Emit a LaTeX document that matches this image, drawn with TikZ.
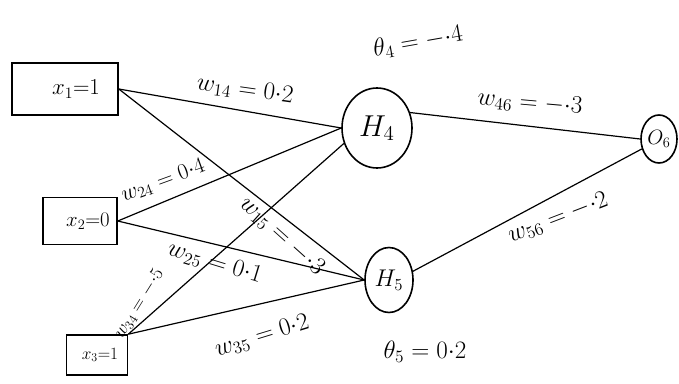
\documentclass[tikz,border=0pt]{standalone}
\usepackage{graphicx}
\usetikzlibrary{shapes.geometric}
\newcommand{\bigtxt}[2]{\scalebox{#1}{#2}}
\begin{document}
\begin{tikzpicture}[x=1pt,y=-1pt,
  inbox/.style={draw, line width=1.6pt, inner sep=0pt, font=\huge},
  neuron/.style={ellipse, draw, line width=1.6pt, inner sep=0pt, font=\LARGE},
  wlab/.style={font=\LARGE, inner sep=0pt, scale=1.45},
  link/.style={line width=1.2pt}]
\useasboundingbox[fill=white] (0,0) rectangle (679,383);
% inputs
\node[inbox, minimum width=106pt, minimum height=52pt] (x1) at (65,89) {\hspace*{22pt}\bigtxt{1.1}{$x_1{=}1$}};
\node[inbox, minimum width=74pt, minimum height=47pt] (x2) at (80,221) {\hspace*{16pt}$x_2{=}0$};
\node[inbox, minimum width=61pt, minimum height=40pt, font=\LARGE] (x3) at (97,355) {\hspace*{6pt}$x_3{=}1$};
% neurons
\node[neuron, minimum width=70pt, minimum height=80pt] (h4) at (377,128) {\bigtxt{1.75}{$H_4$}};
\node[neuron, minimum width=48pt, minimum height=65pt] (h5) at (389,280) {\bigtxt{1.4}{$H_5$}};
\node[neuron, minimum width=36pt, minimum height=48pt] (o6) at (659,139) {\bigtxt{1.2}{$O_6$}};
% connectors
\draw[link] (x1.east) -- (h4.west);
\draw[link] (x1.east) -- (h5.west);
\draw[link] (x2.east) -- (h4.west);
\draw[link] (x2.east) -- (h5.west);
\draw[link] (x3.north east) -- (h4.205);
\draw[link] (x3.north east) -- (h5.west);
\draw[link] (h4.25) -- (o6.west);
\draw[link] (h5.20) -- (o6.210);
% weight labels
\node[wlab, rotate=-8] (l14) at (245,90) {$w_{14}=0{\cdot}2$};
\node[wlab, rotate=20, scale=0.9] (l24) at (163,181) {$w_{24}=0{\cdot}4$};
\node[wlab, rotate=-42, scale=1.0] (l15) at (282,236) {$w_{15}=-{\cdot}3$};
\node[wlab, rotate=-17] (l25) at (215,263) {$w_{25}=0{\cdot}1$};
\node[wlab, rotate=58, scale=0.75] (l34) at (139,304) {$w_{34}=-{\cdot}5$};
\node[wlab, rotate=17] (l35) at (262,336) {$w_{35}=0{\cdot}2$};
\node[wlab, rotate=-5] (l46) at (530,103) {$w_{46}=-{\cdot}3$};
\node[wlab, rotate=21] (l56) at (558,218) {$w_{56}=-{\cdot}2$};
% thresholds
\node[wlab, rotate=10] (t4) at (418,42) {$\theta_4=-{\cdot}4$};
\node[wlab] (t5) at (425,352) {$\theta_5=0{\cdot}2$};
\end{tikzpicture}
\end{document}
